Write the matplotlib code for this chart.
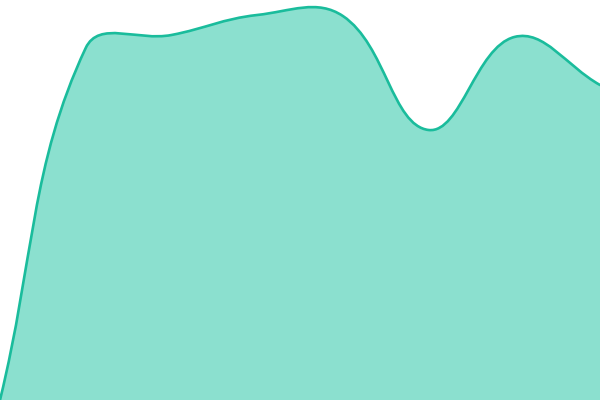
import numpy as np
import matplotlib.pyplot as plt
from matplotlib.path import Path
from matplotlib.patches import PathPatch

# data
labels = ["1", "2", "3", "4", "5", "6", "7", "8"]
values = [0, 352, 365, 385, 384, 270, 363, 315]

line_color = "#1abc9c"
fill_color = "#8be0cf"
tension = 0.4


def spline_controls(pts, t):
    # chart.js style control points, worked out in pixel space
    n = len(pts)
    cps = []
    for i in range(n):
        prev = pts[max(i - 1, 0)]
        cur = pts[i]
        nxt = pts[min(i + 1, n - 1)]
        d01 = np.hypot(*(cur - prev))
        d12 = np.hypot(*(nxt - cur))
        s01 = d01 / (d01 + d12) if d01 + d12 else 0
        s12 = d12 / (d01 + d12) if d01 + d12 else 0
        fa = t * s01
        fb = t * s12
        cps.append((cur - fa * (nxt - prev), cur + fb * (nxt - prev)))
    return cps


fig = plt.figure(figsize=(6, 4), dpi=100)
ax = fig.add_axes([0, 0, 1, 1])
ax.set_xlim(0, len(values) - 1)
ax.set_ylim(0, 400)
ax.axis("off")

xs = np.arange(len(values))
pix = ax.transData.transform(np.column_stack([xs, values]))
cps = spline_controls(pix, tension)
inv = ax.transData.inverted()

verts = [pix[0]]
codes = [Path.MOVETO]
for i in range(len(pix) - 1):
    verts += [cps[i][1], cps[i + 1][0], pix[i + 1]]
    codes += [Path.CURVE4] * 3
verts = inv.transform(np.array(verts))

line_path = Path(verts, codes)
fill_verts = np.vstack([verts, [[xs[-1], 0], [xs[0], 0], verts[0]]])
fill_codes = codes + [Path.LINETO, Path.LINETO, Path.CLOSEPOLY]
fill_path = Path(fill_verts, fill_codes)

ax.add_patch(PathPatch(fill_path, facecolor=fill_color, edgecolor="none"))
ax.add_patch(PathPatch(line_path, facecolor="none", edgecolor=line_color,
                       linewidth=1.9, capstyle="round"))

fig.savefig("out.png", dpi=100)
